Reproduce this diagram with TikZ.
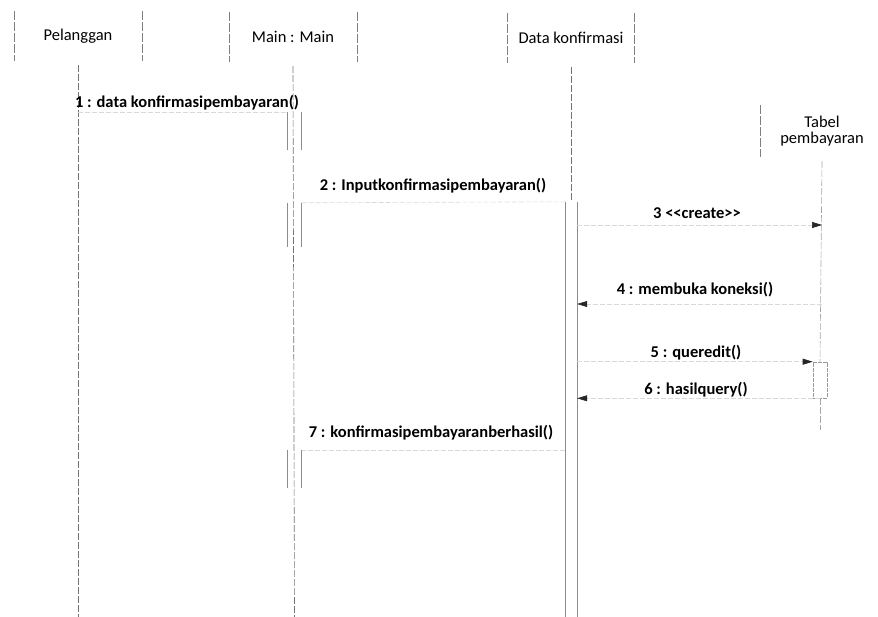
\documentclass[tikz,border=0pt]{standalone}
\usepackage{fontspec}
\setmainfont{Carlito}
\usetikzlibrary{arrows.meta,positioning}

\begin{document}
\begin{tikzpicture}[
  x=1pt, y=-1pt, font=\fontsize{16.5}{19}\selectfont, text=black,
  hd/.style={minimum width=128pt, minimum height=50pt, inner sep=0pt, align=center},
  side/.style={draw=black!50, line width=0.6pt, dash pattern=on 9pt off 2pt},
  life/.style={draw=black!55, line width=0.6pt, dash pattern=on 7pt off 2pt},
  act/.style={minimum width=14pt, inner sep=0pt},
  actside/.style={draw=black!45, line width=0.6pt},
  msg/.style={draw=black!15, line width=0.6pt, dash pattern=on 5pt off 2pt},
  call/.style={msg, -{Triangle[length=10pt, width=6pt, color=black!85]}},
  lbl/.style={font=\fontsize{16.5}{19}\selectfont\bfseries, inner sep=0pt},
]
\useasboundingbox (0,0) rectangle (878,617);

% heads
\node[hd] (pel) at (78,36) {Pelanggan};
\node[hd] (main) at (293,37) {Main : Main};
\node[hd, minimum width=127pt] (data) at (571,38) {Data konfirmasi};
\node[hd, minimum width=124pt, minimum height=52pt, text width=90pt] (tabel) at (822,131)
  {Tabel\\[-3pt]pembayaran};
\draw[side] (pel.north west) -- (pel.south west);
\draw[side] (pel.north east) -- (pel.south east);
\draw[side] (main.north west) -- (main.south west);
\draw[side] (main.north east) -- (main.south east);
\draw[side] (data.north west) -- (data.south west);
\draw[side] (data.north east) -- (data.south east);
\draw[side] (tabel.north west) -- (tabel.south west);

% activations
\node[act, minimum height=38pt] (m1) at (294.5,131) {};
\node[act, minimum height=44pt] (m2) at (294.5,225) {};
\node[act, minimum height=38pt] (m3) at (294.5,469) {};
\node[act, minimum height=425pt, minimum width=12pt] (d1) at (571,414.5) {};
\node[act, draw=black!40, line width=0.6pt, dash pattern=on 4pt off 1pt,
      minimum height=36pt] (t1) at (820,380) {};
\foreach \b in {m1,m2,m3,d1}
  \draw[actside] (\b.north west) -- (\b.south west) (\b.north east) -- (\b.south east);

% lifelines
\draw[life] (pel.south) ++(0,4) -- (78,617);
\draw[life] (main.south) ++(0,4) -- (294.5,617);
\draw[life] (data.south) ++(0,4) -- (d1.north);
\draw[life, draw=black!35] (tabel.south) ++(0,4) -- (t1.north);
\draw[life, draw=black!35] (t1.south) -- (820,430);

% messages
\coordinate (p1) at (78,112);
\coordinate (tl3) at (822,225);
\coordinate (tl4) at (822,304);
\draw[msg] (p1) -- (m1.north west |- p1);
\node[lbl] (l1) at (187,103) {1 : data konfirmasipembayaran()};

\draw[msg] (m2.north east) -- (d1.north west);
\node[lbl] (l2) at (433,186) {2 : Inputkonfirmasipembayaran()};

\draw[call] (d1.east |- tl3) -- (tl3);
\node[lbl] (l3) at (697,213) {3 {<}{<}create{>}{>}};

\draw[call] (tl4) -- (d1.east |- tl4);
\node[lbl] (l4) at (695,290) {4 : membuka koneksi()};

\draw[call] (d1.east |- t1.north) -- (t1.north west);
\node[lbl] (l5) at (696,353) {5 : queredit()};

\draw[call] (t1.south) -- (d1.east |- t1.south);
\node[lbl] (l6) at (696,390) {6 : hasilquery()};

\draw[msg] (d1.west |- m3.north) -- (m3.north east);
\node[lbl] (l7) at (431,433) {7 : konfirmasipembayaranberhasil()};
\end{tikzpicture}
\end{document}
